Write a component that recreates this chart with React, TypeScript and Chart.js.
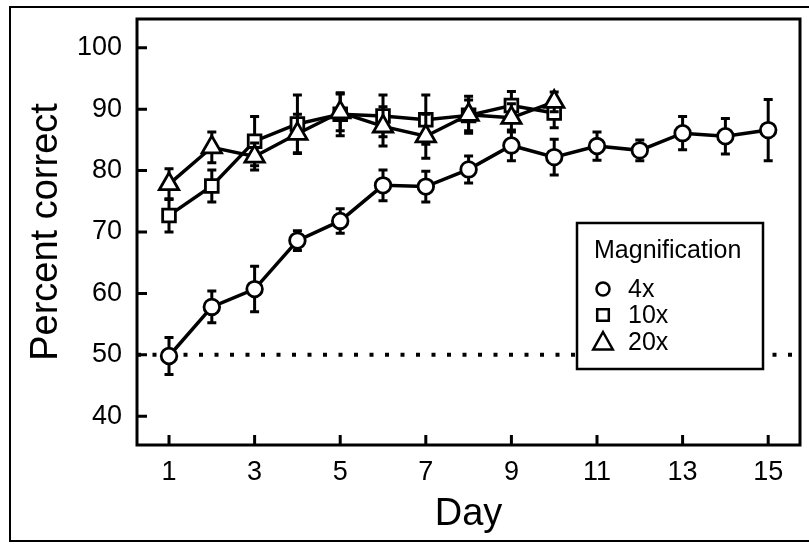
import React, { useEffect, useRef } from "react";
import { Chart, registerables } from "chart.js";

Chart.register(...registerables);

// ---- data ----
const DAYS_4X = [1, 2, 3, 4, 5, 6, 7, 8, 9, 10, 11, 12, 13, 14, 15];
const PCT_4X = [49.8, 57.8, 60.7, 68.6, 71.8, 77.6, 77.4, 80.2, 84.1, 82.2, 84.0, 83.3, 86.1, 85.6, 86.6];
const SEM_4X = [3.0, 2.6, 3.7, 1.6, 2.0, 2.5, 2.5, 2.2, 2.5, 2.9, 2.3, 1.7, 2.7, 2.9, 5.0];

const DAYS_10X = [1, 2, 3, 4, 5, 6, 7, 8, 9, 10];
const PCT_10X = [72.7, 77.5, 84.8, 87.6, 89.2, 88.9, 88.3, 89.0, 90.6, 89.4];
const SEM_10X = [2.7, 2.6, 4.0, 4.7, 3.5, 3.4, 4.0, 2.5, 2.3, 2.4];

const DAYS_20X = [1, 2, 3, 4, 5, 6, 7, 8, 9, 10];
const PCT_20X = [77.8, 83.8, 82.3, 86.0, 89.5, 87.2, 85.6, 89.1, 88.6, 91.2];
const SEM_20X = [2.5, 2.5, 2.2, 3.2, 3.0, 3.2, 3.6, 3.0, 2.3, 1.6];

const SERIES_LABELS = ["4x", "10x", "20x"];
const LEGEND_TITLE = "Magnification";
const X_TICKS = [1, 3, 5, 7, 9, 11, 13, 15];
const Y_TICKS = [40, 50, 60, 70, 80, 90, 100];
const CHANCE = 50;
const X_TITLE = "Day";
const Y_TITLE = "Percent correct";

const FONT = "'Liberation Sans', Arial, sans-serif";

const ERRORS = [SEM_4X, SEM_10X, SEM_20X];

const plotPlugin = {
  id: "plotDecor",
  beforeDatasetsDraw(chart: any) {
    const { ctx, chartArea } = chart;
    const y = chart.scales.y.getPixelForValue(CHANCE);
    ctx.save();
    ctx.strokeStyle = "#000";
    ctx.lineWidth = 4;
    ctx.setLineDash([4, 11.5]);
    ctx.beginPath();
    ctx.moveTo(chartArea.left, y);
    ctx.lineTo(chartArea.right, y);
    ctx.stroke();
    ctx.restore();
  },
  beforeDatasetDraw(chart: any, args: any) {
    const { ctx } = chart;
    const ys = chart.scales.y;
    const ds = chart.data.datasets[args.index];
    const errs = ERRORS[ds.errIndex];
    ctx.save();
    ctx.strokeStyle = "#000";
    ctx.lineWidth = 3;
    ctx.lineCap = "butt";
    args.meta.data.forEach((pt: any, i: number) => {
      const v = ds.data[i].y;
      const e = errs[i];
      const x = pt.x;
      const yt = ys.getPixelForValue(v + e);
      const yb = ys.getPixelForValue(v - e);
      ctx.beginPath();
      ctx.moveTo(x, yt);
      ctx.lineTo(x, yb);
      ctx.moveTo(x - 4.5, yt);
      ctx.lineTo(x + 4.5, yt);
      ctx.moveTo(x - 4.5, yb);
      ctx.lineTo(x + 4.5, yb);
      ctx.stroke();
    });
    ctx.restore();
  },
  afterDatasetsDraw(chart: any) {
    const { ctx, chartArea } = chart;
    const { left, right, top, bottom } = chartArea;
    ctx.save();
    ctx.strokeStyle = "#000";
    ctx.lineWidth = 3;
    ctx.strokeRect(left, top, right - left, bottom - top);
    // inward ticks
    ctx.beginPath();
    chart.scales.y.ticks.forEach((t: any) => {
      const py = chart.scales.y.getPixelForValue(t.value);
      ctx.moveTo(left, py);
      ctx.lineTo(left + 10, py);
    });
    chart.scales.x.ticks.forEach((t: any) => {
      const px = chart.scales.x.getPixelForValue(t.value);
      ctx.moveTo(px, bottom);
      ctx.lineTo(px, bottom - 10);
    });
    ctx.stroke();

    // legend box
    const bx = 577, by = 223, bw = 186, bh = 146;
    ctx.fillStyle = "#fff";
    ctx.fillRect(bx, by, bw, bh);
    ctx.lineWidth = 2.5;
    ctx.strokeRect(bx, by, bw, bh);
    ctx.fillStyle = "#000";
    ctx.font = `25px ${FONT}`;
    ctx.textBaseline = "alphabetic";
    ctx.textAlign = "left";
    ctx.fillText(LEGEND_TITLE, 594, 258);
    const rows = [297, 323, 350];
    const sx = 603;
    ctx.lineWidth = 2.5;
    SERIES_LABELS.forEach((lab, i) => {
      const base = rows[i];
      const cy = base - 8;
      ctx.beginPath();
      if (i === 0) {
        ctx.arc(sx, cy, 6.5, 0, Math.PI * 2);
      } else if (i === 1) {
        ctx.rect(sx - 5.8, cy - 5.8, 11.6, 11.6);
      } else {
        ctx.moveTo(sx, cy - 10);
        ctx.lineTo(sx + 9.8, cy + 7.5);
        ctx.lineTo(sx - 9.8, cy + 7.5);
        ctx.closePath();
      }
      ctx.stroke();
      ctx.fillText(lab, 628, base);
    });
    ctx.restore();
  },
};

export default function App() {
  const ref = useRef<HTMLCanvasElement | null>(null);

  useEffect(() => {
    if (!ref.current) return;
    const mk = (xs: number[], ys: number[]) => xs.map((x, i) => ({ x, y: ys[i] }));
    const common = {
      borderColor: "#000",
      borderWidth: 3.5,
      pointBackgroundColor: "#fff",
      pointBorderColor: "#000",
      pointBorderWidth: 2.8,
      tension: 0,
      fill: false,
    };
    const chart = new Chart(ref.current, {
      type: "line",
      data: {
        datasets: [
          { ...common, label: SERIES_LABELS[0], data: mk(DAYS_4X, PCT_4X), pointStyle: "circle", pointRadius: 7.8, order: 2, errIndex: 0 } as any,
          { ...common, label: SERIES_LABELS[1], data: mk(DAYS_10X, PCT_10X), pointStyle: "rect", pointRadius: 9, order: 1, errIndex: 1 } as any,
          { ...common, label: SERIES_LABELS[2], data: mk(DAYS_20X, PCT_20X), pointStyle: "triangle", pointRadius: 11.2, order: 0, errIndex: 2 } as any,
        ],
      },
      options: {
        animation: false,
        responsive: false,
        devicePixelRatio: 1,
        events: [],
        layout: { autoPadding: false, padding: { left: 0, top: 19, right: 9, bottom: 0 } },
        plugins: { legend: { display: false }, tooltip: { enabled: false } },
        scales: {
          x: {
            type: "linear",
            min: 0.252,
            max: 15.743,
            grid: { display: false, drawTicks: false },
            border: { display: false },
            afterBuildTicks: (s: any) => {
              s.ticks = X_TICKS.map((v) => ({ value: v }));
            },
            afterFit: (s: any) => {
              s.height = 99;
              s.paddingLeft = 0;
              s.paddingRight = 0;
              s.paddingTop = 0;
              s.paddingBottom = 0;
            },
            ticks: { color: "#000", font: { family: FONT, size: 27 }, padding: 11, maxRotation: 0, autoSkip: false },
            title: { display: true, text: X_TITLE, color: "#000", font: { family: FONT, size: 38 }, padding: { top: 0, bottom: 7 } },
          },
          y: {
            type: "linear",
            min: 35.3,
            max: 104.7,
            grid: { display: false, drawTicks: false },
            border: { display: false },
            afterBuildTicks: (s: any) => {
              s.ticks = Y_TICKS.map((v) => ({ value: v }));
            },
            afterFit: (s: any) => {
              s.width = 137;
              s.paddingLeft = 0;
              s.paddingRight = 0;
              s.paddingTop = 0;
              s.paddingBottom = 0;
            },
            ticks: { color: "#000", font: { family: FONT, size: 27 }, padding: 15, autoSkip: false },
            title: { display: true, text: Y_TITLE, color: "#000", font: { family: FONT, size: 38 }, padding: { top: 24, bottom: 0 } },
          },
        },
      },
      plugins: [plotPlugin],
    });
    return () => chart.destroy();
  }, []);

  return (
    <div>
      <div
        style={{
          position: "fixed",
          left: 9,
          top: 6,
          width: 800,
          height: 536,
          boxSizing: "border-box",
          borderLeft: "2px solid #000",
          borderTop: "2px solid #000",
          borderBottom: "2px solid #000",
        }}
      />
      <canvas
        ref={ref}
        width={809}
        height={544}
        style={{ position: "fixed", left: 0, top: 0, width: 809, height: 544, display: "block" }}
      />
    </div>
  );
}
